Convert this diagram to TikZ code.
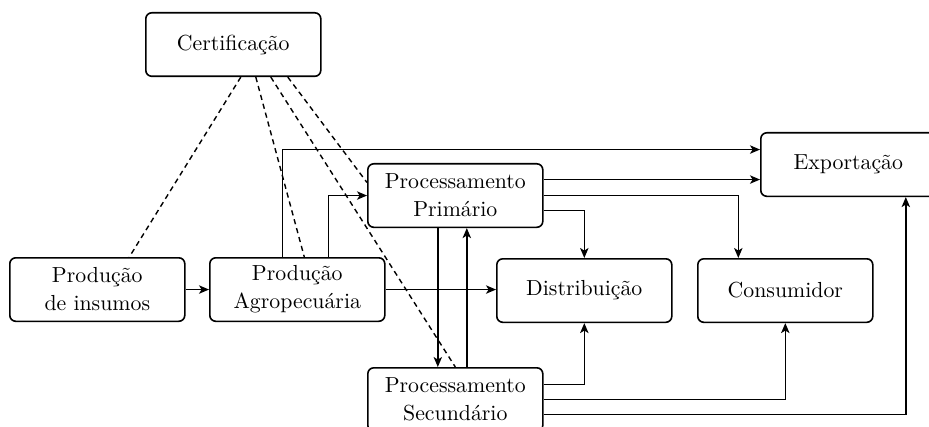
\documentclass[tikz,border=0pt]{standalone}
\usepackage{fontspec}
\usetikzlibrary{arrows.meta,calc}
\begin{document}
\begin{tikzpicture}[x=0.5pt,y=-0.5pt,
  box/.style={draw,rounded corners=3pt,line width=0.8pt,minimum width=87.5pt,minimum height=31.75pt,inner sep=0pt,align=center,anchor=north west,font=\fontsize{10.9}{14}\selectfont},
  arr/.style={draw,line width=0.75pt,-{Stealth[length=5pt,width=4.2pt,inset=1.3pt]}},
  dsh/.style={draw,line width=0.7pt,dash pattern=on 2.6pt off 2pt}]
\clip (0,0) rectangle (929,427);
\node[box] (cert) at (145,12) {Certificação};
\node[box] (ins) at (9,257) {Produção\\de insumos};
\node[box] (agro) at (209,257) {Produção\\Agropecuária};
\node[box] (prim) at (367,163) {Processamento\\Primário};
\node[box] (exp) at (760,132) {Exportação};
\node[box] (dist) at (496,258) {Distribuição};
\node[box] (cons) at (697,258) {Consumidor};
\node[box] (sec) at (367,367) {Processamento\\Secundário};
% solid connectors
\draw[arr] (ins.east) -- (ins.east -| agro.west);
\draw[arr] (agro.east) -- (agro.east -| dist.west);
\draw[arr] ([xshift=-7.5pt]agro.north) |- ([yshift=7.5pt]exp.west);
\draw[arr] ([xshift=15.5pt]agro.north) |- (prim.west);
\draw[arr] ([yshift=8pt]prim.east) -- ([yshift=8pt]prim.east -| exp.west);
\draw[arr] (prim.east) -| ([xshift=-23.5pt]cons.north);
\draw[arr] ([yshift=-7.5pt]prim.east) -| (dist.north);
\draw[arr] ([xshift=-8.75pt]prim.south) -- ([xshift=-8.75pt]sec.north);
\draw[arr] ([xshift=5.75pt]sec.north) -- ([xshift=5.75pt]prim.south);
\draw[arr] ([yshift=7.5pt]sec.east) -| (dist.south);
\draw[arr] (sec.east) -| (cons.south);
\draw[arr] ([yshift=-7.5pt]sec.east) -| ([xshift=28.75pt]exp.south);
% dashed
\draw[dsh] ([xshift=3.75pt]cert.south) -- ([xshift=16pt]ins.north);
\draw[dsh] ([xshift=11.25pt]cert.south) -- ([xshift=3.5pt]agro.north);
\draw[dsh] ([xshift=18.75pt]cert.south) -- (sec.north);
\draw[dsh] ([xshift=27.25pt]cert.south) -- ([yshift=6.5pt]prim.west);
\end{tikzpicture}
\end{document}
